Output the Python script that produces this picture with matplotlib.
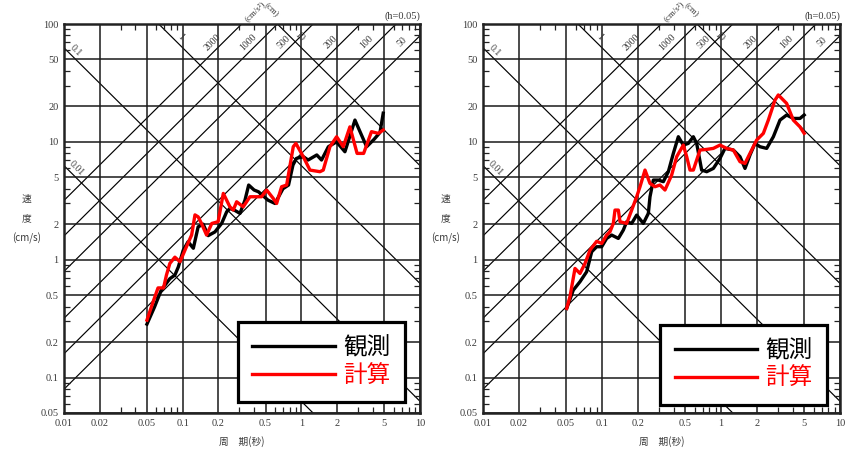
import numpy as np
import matplotlib
matplotlib.use("Agg")
import matplotlib.pyplot as plt
from matplotlib.ticker import FixedLocator, NullFormatter, FixedFormatter, LogLocator

# ---------------- data ----------------
x_ticks = [0.01, 0.02, 0.05, 0.1, 0.2, 0.5, 1, 2, 5, 10]
x_ticklabels = ["0.01", "0.02", "0.05", "0.1", "0.2", "0.5", "1", "2", "5", "10"]
y_ticks = [0.05, 0.1, 0.2, 0.5, 1, 2, 5, 10, 20, 50, 100]
y_ticklabels = ["0.05", "0.1", "0.2", "0.5", "1", "2", "5", "10", "20", "50", "100"]

accel_lines = [50, 100, 200, 500, 1000, 2000]     # cm/s^2
disp_lines = [0.01, 0.1, 1, 10]                   # cm
damping_text = "(h=0.05)"
legend_labels = ["観測", "計算"]
xlabel_text = "周　期(秒)"
ylabel_lines = ["速", "度", "(cm/s)"]

# left panel
obs1_T = [0.050, 0.058, 0.066, 0.078, 0.086, 0.092, 0.101, 0.111, 0.123, 0.135, 0.149,
          0.164, 0.187, 0.213, 0.235, 0.250, 0.275, 0.304, 0.335, 0.360, 0.400, 0.435,
          0.524, 0.600, 0.700, 0.780, 0.850, 0.910, 1.04, 1.14, 1.35, 1.48, 1.69, 1.98,
          2.33, 2.83, 3.55, 4.10, 4.60, 4.90]
obs1_SV = [0.284, 0.398, 0.552, 0.69, 0.74, 0.87, 1.20, 1.42, 1.25, 1.90, 2.00,
           1.60, 1.72, 2.03, 2.55, 2.72, 2.62, 2.47, 3.20, 4.30, 3.90, 3.77,
           3.20, 3.00, 4.00, 4.30, 6.35, 7.24, 7.48, 7.01, 7.74, 7.01, 9.09, 10.0,
           8.24, 15.3, 9.09, 10.5, 12.0, 17.5]
calc1_T = [0.050, 0.057, 0.062, 0.069, 0.073, 0.078, 0.086, 0.095, 0.108, 0.119, 0.127,
           0.135, 0.144, 0.159, 0.176, 0.199, 0.220, 0.250, 0.267, 0.285, 0.324, 0.369,
           0.406, 0.462, 0.510, 0.580, 0.619, 0.682, 0.752, 0.855, 0.900, 1.038, 1.182,
           1.435, 1.530, 1.742, 1.983, 2.256, 2.566, 2.95, 3.35, 3.90, 4.45, 4.90]
calc1_SV = [0.307, 0.454, 0.576, 0.576, 0.74, 0.93, 1.05, 0.96, 1.30, 1.62, 2.40,
            2.31, 2.03, 1.62, 2.03, 2.10, 3.65, 2.81, 2.64, 3.10, 2.81, 3.42,
            3.42, 3.42, 3.90, 3.31, 3.00, 4.16, 4.30, 9.09, 9.70, 7.48, 5.76,
            5.58, 5.76, 9.09, 11.05, 9.09, 13.4, 7.98, 7.98, 12.2, 11.8, 12.6]

# right panel
obs2_T = [0.0505, 0.0574, 0.0653, 0.0743, 0.0819, 0.0902, 0.0994, 0.1094, 0.1206, 0.1372,
          0.1511, 0.1612, 0.1776, 0.1956, 0.2225, 0.2451, 0.2531, 0.2700, 0.2974, 0.3277,
          0.3610, 0.3976, 0.4380, 0.4826, 0.5315, 0.5855, 0.6245, 0.6878, 0.7580, 0.8622,
          0.9809, 1.080, 1.270, 1.444, 1.591, 1.752, 1.931, 2.127, 2.420, 2.754, 3.132,
          3.563, 4.053, 4.611, 5.0]
obs2_SV = [0.386, 0.552, 0.650, 0.790, 1.167, 1.288, 1.288, 1.515, 1.618, 1.515,
           1.784, 2.099, 2.032, 2.39, 2.032, 2.47, 3.42, 4.74, 4.74, 4.59,
           5.58, 7.98, 11.05, 9.39, 9.70, 11.05, 9.70, 5.76, 5.58, 5.95,
           7.24, 8.80, 8.52, 7.48, 5.95, 7.73, 9.70, 9.09, 8.80, 11.05, 15.3,
           16.9, 15.8, 15.8, 16.9]
calc2_T = [0.0505, 0.0538, 0.0593, 0.0653, 0.0720, 0.0793, 0.0902, 0.0994, 0.1094, 0.1167,
           0.1245, 0.1286, 0.1372, 0.1417, 0.1612, 0.1776, 0.1956, 0.2086, 0.2298, 0.2531,
           0.2789, 0.3072, 0.3383, 0.3850, 0.4242, 0.4826, 0.5147, 0.5489, 0.5855, 0.6660,
           0.7580, 0.8622, 0.9809, 1.116, 1.270, 1.444, 1.591, 1.752, 1.994, 2.269, 2.499,
           2.843, 3.03, 3.56, 4.05, 4.61, 5.0]
calc2_SV = [0.386, 0.4845, 0.843, 0.764, 0.929, 1.206, 1.432, 1.374, 1.618, 1.726,
            2.032, 2.636, 2.636, 2.099, 2.032, 2.636, 3.42, 4.16, 5.76, 4.44,
            4.16, 4.30, 3.90, 5.23, 7.48, 9.39, 7.48, 5.76, 5.76, 8.52,
            8.63, 8.80, 9.39, 8.80, 8.52, 6.78, 6.56, 7.98, 10.36, 11.80, 15.3,
            22.6, 25.0, 21.2, 15.3, 13.4, 11.8]

panels = [
    dict(obs=(obs1_T, obs1_SV), calc=(calc1_T, calc1_SV)),
    dict(obs=(obs2_T, obs2_SV), calc=(calc2_T, calc2_SV)),
]

# ---------------- style ----------------
plt.rcParams["font.family"] = ["Noto Sans CJK JP", "DejaVu Sans"]
SERIF = ["Liberation Serif", "DejaVu Serif"]
TXT = "#3a3a3a"
XMIN, XMAX, YMIN, YMAX = 0.01, 10, 0.05, 100
TWO_PI = 2 * np.pi

fig = plt.figure(figsize=(8.56, 4.54), dpi=100)
W, H = 856, 454
boxes = [(64, 24, 420, 413), (483, 24, 840, 413)]
legend_anchor = [(0.958, 0.028), (0.964, 0.021)]

for i, (pan, (x0, y0, x1, y1)) in enumerate(zip(panels, boxes)):
    ax = fig.add_axes([x0 / W, 1 - y1 / H, (x1 - x0) / W, (y1 - y0) / H])
    ax.set_xscale("log")
    ax.set_yscale("log")
    ax.set_xlim(XMIN, XMAX)
    ax.set_ylim(YMIN, YMAX)

    ax.xaxis.set_major_locator(FixedLocator(x_ticks))
    ax.xaxis.set_major_formatter(FixedFormatter(x_ticklabels))
    ax.yaxis.set_major_locator(FixedLocator(y_ticks))
    ax.yaxis.set_major_formatter(FixedFormatter(y_ticklabels))
    ax.xaxis.set_minor_locator(LogLocator(base=10, subs=[3, 4, 6, 7, 8, 9]))
    ax.yaxis.set_minor_locator(LogLocator(base=10, subs=[3, 4, 6, 7, 8, 9]))
    ax.xaxis.set_minor_formatter(NullFormatter())
    ax.yaxis.set_minor_formatter(NullFormatter())
    ax.tick_params(which="major", length=0, pad=4, labelsize=7.5, labelcolor=TXT)
    ax.tick_params(which="minor", direction="in", length=4.5, width=0.9,
                   top=True, right=True, bottom=True, left=True, color="#222222")
    for lab in ax.get_xticklabels() + ax.get_yticklabels():
        lab.set_fontfamily(SERIF)

    ax.grid(True, which="major", color="#1a1a1a", lw=1.1, zorder=1)
    for sp in ax.spines.values():
        sp.set_linewidth(1.8)
        sp.set_color("#222222")
        sp.set_zorder(6)

    # tripartite diagonal lines
    Tg = np.logspace(np.log10(XMIN), np.log10(XMAX), 200)
    for A in accel_lines:
        ax.plot(Tg, A * Tg / TWO_PI, color="black", lw=0.85, zorder=1.5)
        sv_lab = 70.0
        ax.annotate(str(A), (TWO_PI * sv_lab / A, sv_lab), xytext=(-11, 0),
                    textcoords="offset pixels", rotation=45, ha="center", va="center",
                    fontsize=7, color=TXT, family=SERIF, zorder=2)
    for D in disp_lines:
        ax.plot(Tg, TWO_PI * D / Tg, color="black", lw=0.85, zorder=1.5)
        if TWO_PI * D / XMIN < YMAX:
            t_lab = XMIN * 10 ** (10 / 118.7)
        else:
            t_lab = TWO_PI * D / YMAX * 10 ** (20 / 118.7)
        ax.annotate(f"{D:g}", (t_lab, TWO_PI * D / t_lab), xytext=(2, 7),
                    textcoords="offset pixels", rotation=-45, ha="center", va="center",
                    fontsize=7, color=TXT, family=SERIF, zorder=2)

    # spectra
    ax.plot(*pan["obs"], color="black", lw=2.4, zorder=3, label=legend_labels[0],
            solid_joinstyle="round")
    ax.plot(*pan["calc"], color="#ff0000", lw=2.4, zorder=3.5, label=legend_labels[1],
            solid_joinstyle="round")

    # texts around
    ax.text(1.0, 1.021, damping_text, transform=ax.transAxes, ha="right", va="center",
            fontsize=7.5, color=TXT, family=SERIF)
    ax.text(0.535, 1.0325, "(cm/s²)", transform=ax.transAxes, ha="center", va="center",
            rotation=45, fontsize=6.5, color=TXT, family=SERIF, clip_on=False)
    ax.text(0.583, 1.035, "(cm)", transform=ax.transAxes, ha="center", va="center",
            rotation=-45, fontsize=6.5, color=TXT, family=SERIF, clip_on=False)
    ax.text(0.5, -0.0746, xlabel_text, transform=ax.transAxes, ha="center", va="center",
            fontsize=7, color=TXT)
    for txt, yy in zip(ylabel_lines, [0.550, 0.501, 0.450]):
        ax.text(-0.105, yy, txt, transform=ax.transAxes, ha="center", va="center",
                fontsize=7, color=TXT)

    leg = ax.legend(loc="lower right", bbox_to_anchor=legend_anchor[i],
                    borderaxespad=0, fontsize=17, handlelength=3.5, handletextpad=0.34,
                    labelspacing=0.21, borderpad=0.62, fancybox=False, framealpha=1,
                    edgecolor="black")
    leg.get_frame().set_linewidth(2.3)
    leg.set_zorder(10)
    for line in leg.get_lines():
        line.set_linewidth(2.4)
    for txt, col in zip(leg.get_texts(), ["black", "#ff0000"]):
        txt.set_color(col)

fig.savefig("out.png", dpi=100)
